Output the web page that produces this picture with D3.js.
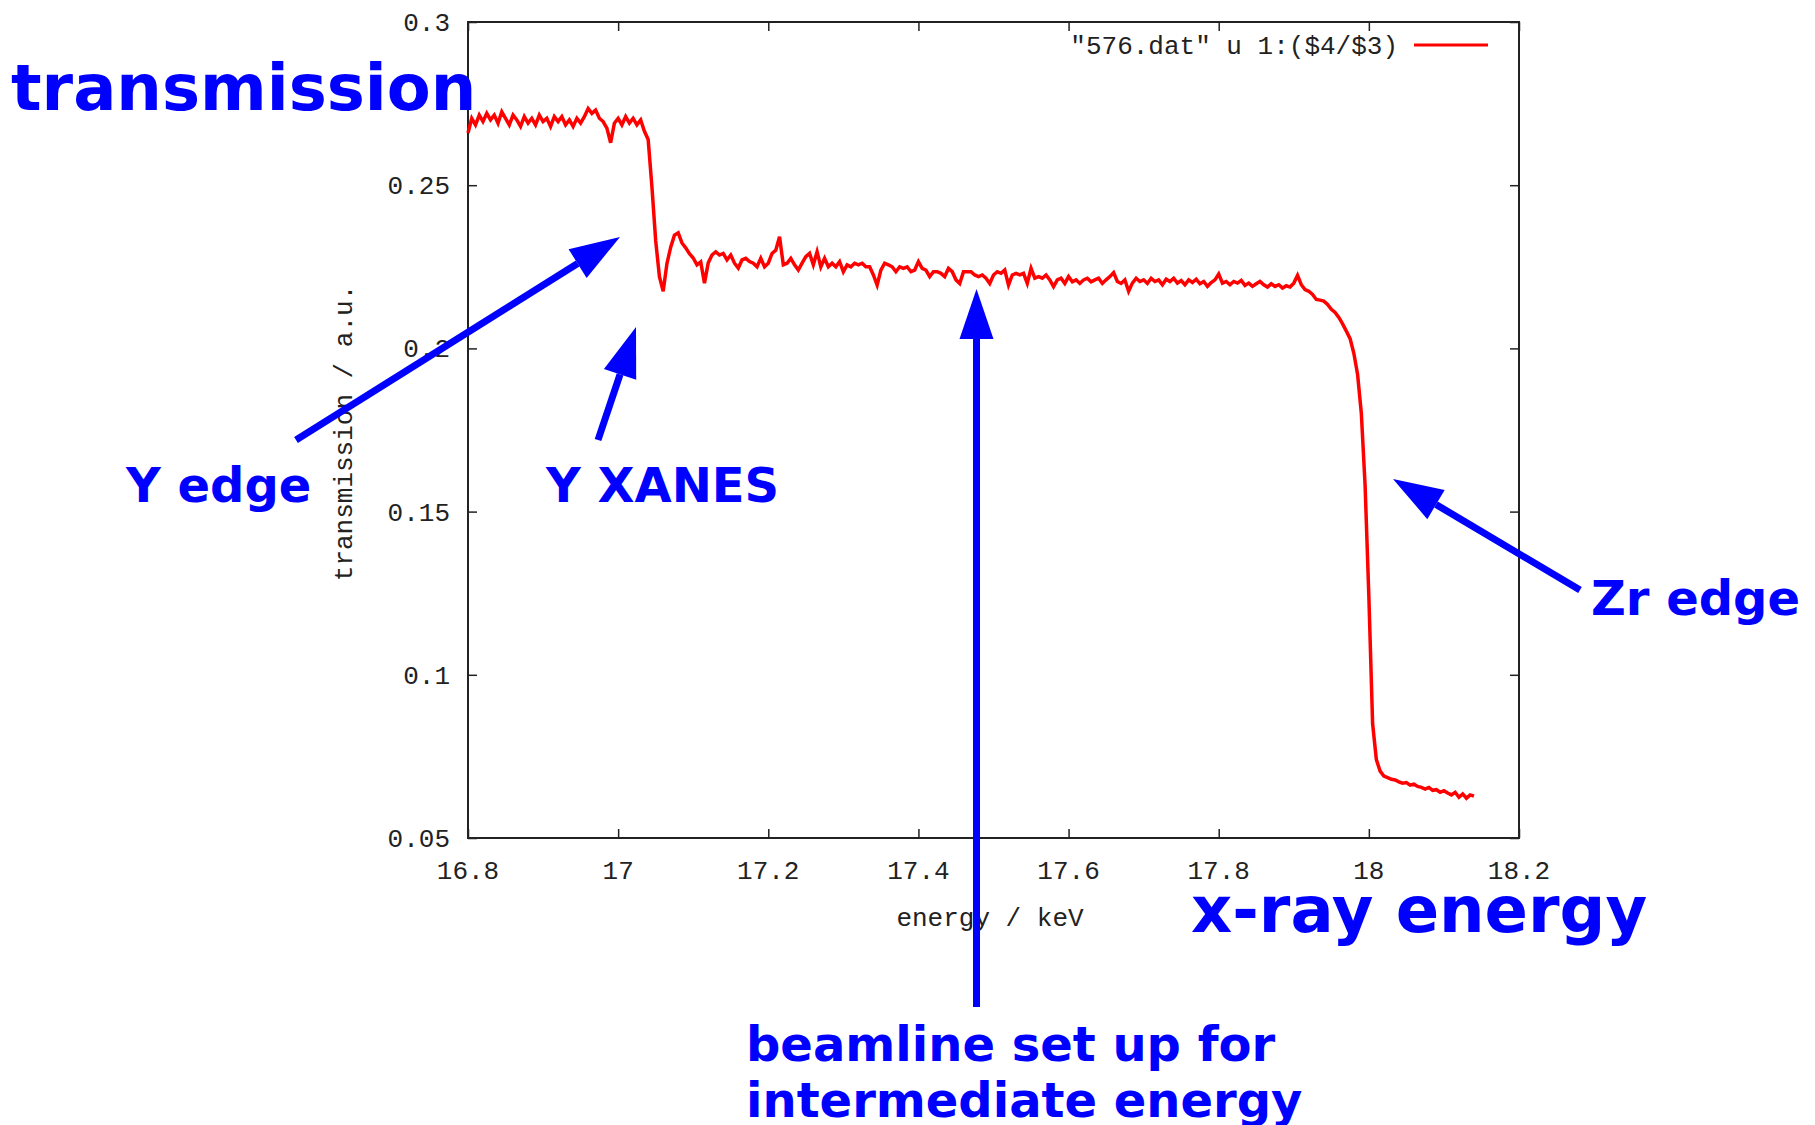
<!DOCTYPE html>
<html>
<head>
<meta charset="utf-8">
<script src="https://cdn.jsdelivr.net/npm/d3@7"></script>
<style>
    body { margin: 0; background: #fff; }
    svg { display: block; }
</style>
</head>
<body>
<svg id="chart"></svg>
<script>
// x-ray transmission scan, "576.dat" u 1:($4/$3)

const energyStart = 16.8;   // keV, first point of the scan
const energyStep = 0.005;   // keV between points

const transmission = [
    // pre-edge 16.800 - 17.035
    0.2660, 0.2705, 0.2685, 0.2715, 0.2695, 0.2720, 0.2700, 0.2715, 0.2690, 0.2725,
    0.2705, 0.2685, 0.2715, 0.2700, 0.2680, 0.2710, 0.2690, 0.2705, 0.2685, 0.2715,
    0.2695, 0.2705, 0.2680, 0.2710, 0.2695, 0.2710, 0.2685, 0.2700, 0.2680, 0.2705,
    0.2690, 0.2710, 0.2735, 0.2720, 0.2730, 0.2705, 0.2695, 0.2675, 0.2630, 0.2690,
    0.2705, 0.2685, 0.2710, 0.2690, 0.2705, 0.2685, 0.2700, 0.2665,
    // Y edge and XANES 17.040 - 17.235
    0.2640, 0.2495, 0.2330, 0.2220, 0.2175, 0.2260, 0.2310, 0.2347, 0.2354, 0.2323,
    0.2308, 0.2290, 0.2277, 0.2256, 0.2265, 0.2200, 0.2262, 0.2286, 0.2296, 0.2286,
    0.2291, 0.2271, 0.2286, 0.2261, 0.2246, 0.2271, 0.2276, 0.2266, 0.2261, 0.2250,
    0.2276, 0.2250, 0.2261, 0.2291, 0.2301, 0.2342, 0.2256, 0.2261, 0.2276, 0.2256,
    // 17.240 - 17.635
    0.2240, 0.2261, 0.2281, 0.2291, 0.2256, 0.2296, 0.2250, 0.2276, 0.2250, 0.2261,
    0.2250, 0.2266, 0.2235, 0.2256, 0.2250, 0.2261, 0.2256, 0.2261, 0.2250, 0.2250,
    0.2225, 0.2194, 0.2240, 0.2261, 0.2256, 0.2250, 0.2235, 0.2250, 0.2245, 0.2250,
    0.2235, 0.2240, 0.2266, 0.2245, 0.2240, 0.2220, 0.2235, 0.2235, 0.2230, 0.2220,
    0.2245, 0.2235, 0.2210, 0.2199, 0.2235, 0.2235, 0.2235, 0.2225, 0.2220, 0.2225,
    0.2215, 0.2199, 0.2225, 0.2235, 0.2230, 0.2240, 0.2194, 0.2225, 0.2230, 0.2225,
    0.2230, 0.2199, 0.2245, 0.2215, 0.2220, 0.2215, 0.2225, 0.2210, 0.2189, 0.2210,
    0.2215, 0.2199, 0.2220, 0.2204, 0.2210, 0.2199, 0.2210, 0.2215, 0.2204, 0.2210,
    // 17.640 - 17.935
    0.2215, 0.2199, 0.2210, 0.2220, 0.2232, 0.2205, 0.2199, 0.2210, 0.2175, 0.2200,
    0.2215, 0.2205, 0.2210, 0.2199, 0.2215, 0.2205, 0.2210, 0.2195, 0.2212, 0.2205,
    0.2215, 0.2200, 0.2208, 0.2195, 0.2210, 0.2202, 0.2212, 0.2198, 0.2205, 0.2190,
    0.2202, 0.2210, 0.2228, 0.2200, 0.2205, 0.2195, 0.2205, 0.2200, 0.2208, 0.2193,
    0.2200, 0.2190, 0.2198, 0.2205, 0.2195, 0.2188, 0.2198, 0.2190, 0.2195, 0.2185,
    0.2192, 0.2188, 0.2200, 0.2224, 0.2195, 0.2180, 0.2175, 0.2165, 0.2150, 0.2148,
    // Zr edge 17.940 - 18.140
    0.2145, 0.2135, 0.2120, 0.2110, 0.2095, 0.2075, 0.2053, 0.2030, 0.1985, 0.1920,
    0.1800, 0.1580, 0.1240, 0.0850, 0.0740, 0.0705, 0.0690, 0.0685, 0.0680, 0.0678,
    0.0672, 0.0668, 0.0670, 0.0662, 0.0665, 0.0658, 0.0655, 0.0650, 0.0655, 0.0646,
    0.0648, 0.0640, 0.0645, 0.0638, 0.0632, 0.0640, 0.0625, 0.0635, 0.0622, 0.0632,
    0.0628
];

const xTicks = [16.8, 17, 17.2, 17.4, 17.6, 17.8, 18, 18.2];
const xTickLabels = ["16.8", "17", "17.2", "17.4", "17.6", "17.8", "18", "18.2"];
const yTicks = [0.05, 0.1, 0.15, 0.2, 0.25, 0.3];
const yTickLabels = ["0.05", "0.1", "0.15", "0.2", "0.25", "0.3"];

const legendLabel = '"576.dat" u 1:($4/$3)';

const width = 1815, height = 1125;
const plot = {left: 468, right: 1519, top: 22, bottom: 838};
const blue = "#0000ff";
const monoFont = "'Liberation Mono', 'DejaVu Sans Mono', monospace";
const boldFont = "'DejaVu Sans', sans-serif";

const svg = d3.select("#chart")
    .attr("width", width)
    .attr("height", height)
    .style("background", "#fff");

const x = d3.scaleLinear().domain([16.8, 18.2]).range([plot.left, plot.right]);
const y = d3.scaleLinear().domain([0.05, 0.3]).range([plot.bottom, plot.top]);

drawFrame();
drawCurve();
drawLegend();
drawAnnotations();

function drawFrame() {
    const tickLen = 9;
    const g = svg.append("g");

    // ticks go inward on all four sides, gnuplot style
    const axes = [
        [d3.axisBottom(x), plot.bottom, "x"],
        [d3.axisTop(x), plot.top, "x"],
        [d3.axisLeft(y), plot.left, "y"],
        [d3.axisRight(y), plot.right, "y"]
    ];
    axes.forEach(([axis, pos, dir]) => {
        axis.tickValues(dir === "x" ? xTicks : yTicks)
            .tickSizeInner(-tickLen)
            .tickSizeOuter(0)
            .tickFormat("");
        const a = g.append("g")
            .attr("transform", dir === "x" ? `translate(0,${pos})` : `translate(${pos},0)`)
            .call(axis);
        a.select(".domain").remove();
        a.selectAll(".tick line").attr("stroke", "#222").attr("stroke-width", 1.5);
    });

    g.append("rect")
        .attr("x", plot.left)
        .attr("y", plot.top)
        .attr("width", plot.right - plot.left)
        .attr("height", plot.bottom - plot.top)
        .attr("fill", "none")
        .attr("stroke", "#222")
        .attr("stroke-width", 2);

    g.selectAll(".xlab")
        .data(xTicks)
        .enter()
        .append("text")
        .attr("class", "xlab")
        .attr("x", d => x(d))
        .attr("y", plot.bottom + 41)
        .attr("text-anchor", "middle")
        .style("font-family", monoFont)
        .style("font-size", "26px")
        .attr("fill", "#222")
        .text((d, i) => xTickLabels[i]);

    g.selectAll(".ylab")
        .data(yTicks)
        .enter()
        .append("text")
        .attr("class", "ylab")
        .attr("x", plot.left - 18)
        .attr("y", d => y(d) + 9)
        .attr("text-anchor", "end")
        .style("font-family", monoFont)
        .style("font-size", "26px")
        .attr("fill", "#222")
        .text((d, i) => yTickLabels[i]);

    g.append("text")
        .attr("x", 990)
        .attr("y", 926)
        .attr("text-anchor", "middle")
        .style("font-family", monoFont)
        .style("font-size", "26px")
        .attr("fill", "#222")
        .text("energy / keV");

    g.append("text")
        .attr("transform", "translate(352,433) rotate(-90)")
        .attr("text-anchor", "middle")
        .style("font-family", monoFont)
        .style("font-size", "26px")
        .attr("fill", "#222")
        .text("transmission / a.u.");
}

function drawCurve() {
    const points = transmission.map((v, i) => [energyStart + i * energyStep, v]);
    const line = d3.line()
        .x(d => x(d[0]))
        .y(d => y(d[1]));

    svg.append("path")
        .datum(points)
        .attr("d", line)
        .attr("fill", "none")
        .attr("stroke", "#ff0000")
        .attr("stroke-width", 3.5)
        .attr("stroke-linejoin", "miter");
}

function drawLegend() {
    svg.append("text")
        .attr("x", 1398)
        .attr("y", 54)
        .attr("text-anchor", "end")
        .style("font-family", monoFont)
        .style("font-size", "26px")
        .attr("fill", "#222")
        .text(legendLabel);

    svg.append("line")
        .attr("x1", 1414)
        .attr("x2", 1488)
        .attr("y1", 45)
        .attr("y2", 45)
        .attr("stroke", "#ff0000")
        .attr("stroke-width", 3);
}

function drawArrow(x1, y1, x2, y2) {
    const headLen = 50, headHalf = 17;
    const ang = Math.atan2(y2 - y1, x2 - x1);
    const bx = x2 - headLen * Math.cos(ang), by = y2 - headLen * Math.sin(ang);
    const px = -Math.sin(ang) * headHalf, py = Math.cos(ang) * headHalf;

    svg.append("line")
        .attr("x1", x1).attr("y1", y1)
        .attr("x2", bx).attr("y2", by)
        .attr("stroke", blue)
        .attr("stroke-width", 7);

    svg.append("polygon")
        .attr("points", [[x2, y2], [bx + px, by + py], [bx - px, by - py]].map(p => p.join(",")).join(" "))
        .attr("fill", blue);
}

function addLabel(text, lx, ly, size) {
    svg.append("text")
        .attr("x", lx)
        .attr("y", ly)
        .style("font-family", boldFont)
        .style("font-weight", "bold")
        .style("font-size", size + "px")
        .attr("fill", blue)
        .text(text);
}

function drawAnnotations() {
    drawArrow(296, 440, 620, 237);    // Y edge
    drawArrow(598, 440, 636, 327);    // Y XANES
    drawArrow(976.5, 1007, 976.5, 289); // beamline energy
    drawArrow(1580, 590, 1393, 479);  // Zr edge

    addLabel("transmission", 11, 110, 64);
    addLabel("x-ray energy", 1191, 932, 64);
    addLabel("Y edge", 126, 502, 48);
    addLabel("Y XANES", 546, 502, 48);
    addLabel("Zr edge", 1591, 615, 48);
    addLabel("beamline set up for", 746, 1061, 48);
    addLabel("intermediate energy", 746, 1117, 48);
}
</script>
</body>
</html>
